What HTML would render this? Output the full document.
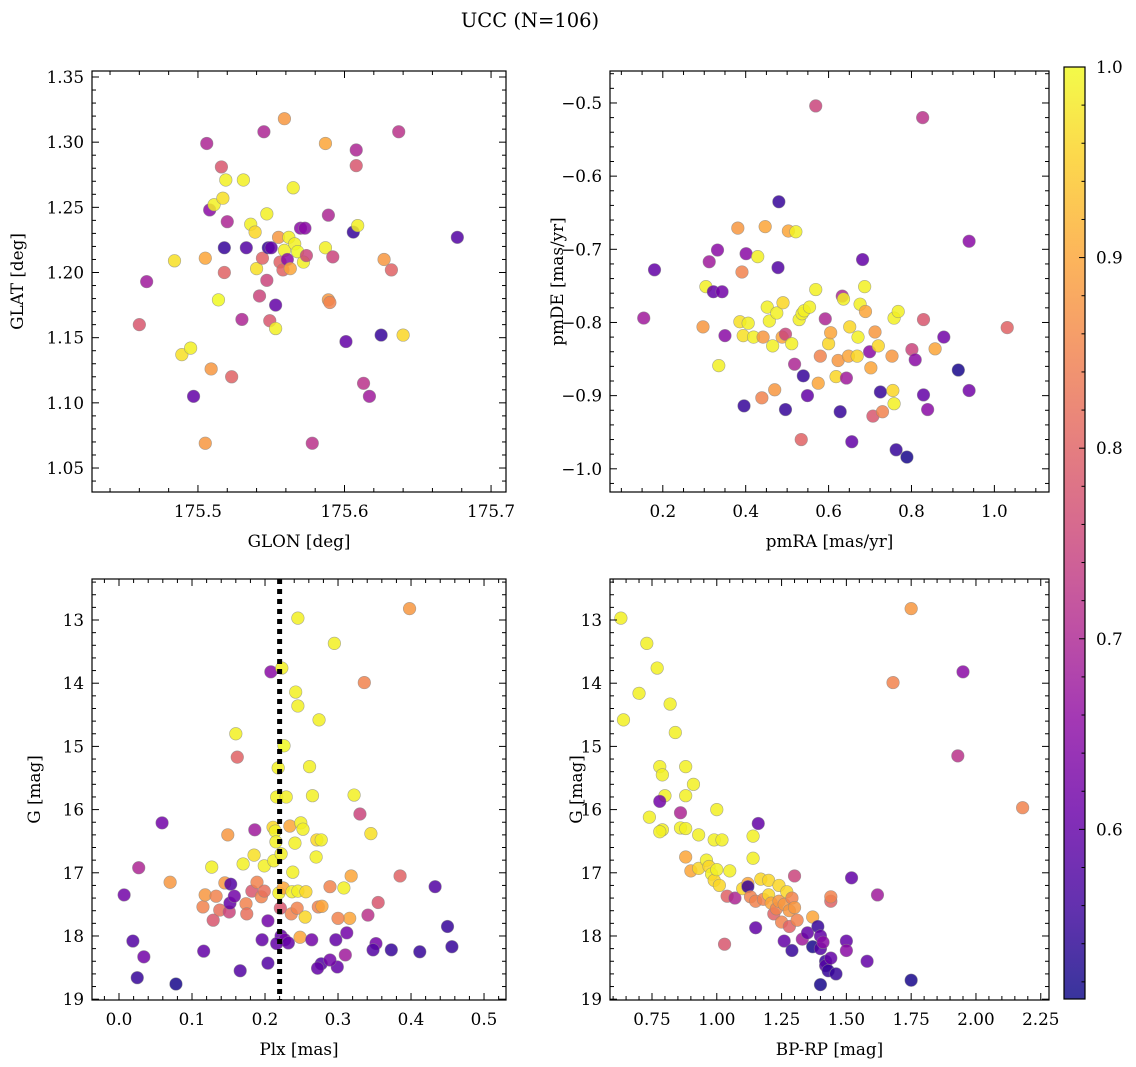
<!DOCTYPE html>
<html><head><meta charset="utf-8">
<style>
html,body{margin:0;padding:0;background:#fff;}
svg{display:block;font-family:"DejaVu Serif","Liberation Serif",serif;}
</style></head>
<body>
<svg id="fig" width="1136" height="1067" viewBox="0 0 1136 1067" xmlns="http://www.w3.org/2000/svg">
<rect width="1136" height="1067" fill="#fff"/>
<text x="530" y="27" font-size="19.5" text-anchor="middle">UCC (N=106)</text>
</svg>
<script>
// ---- data ----
const glon = [175.460,175.465,175.484,175.489,175.495,175.497,175.505,175.506,175.505,175.508,175.509,175.511,175.514,175.516,175.517,175.518,175.518,175.519,175.520,175.523,175.530,175.531,175.533,175.536,175.539,175.540,175.542,175.544,175.545,175.547,175.547,175.548,175.549,175.550,175.553,175.553,175.555,175.556,175.558,175.559,175.559,175.561,175.562,175.563,175.565,175.566,175.568,175.570,175.572,175.573,175.574,175.578,175.587,175.587,175.589,175.589,175.590,175.592,175.601,175.606,175.608,175.608,175.609,175.613,175.617,175.625,175.627,175.632,175.637,175.640,175.677];
const glat = [1.160,1.193,1.209,1.137,1.142,1.105,1.069,1.299,1.211,1.248,1.126,1.252,1.179,1.281,1.257,1.200,1.219,1.271,1.239,1.120,1.164,1.271,1.219,1.237,1.231,1.203,1.182,1.211,1.308,1.245,1.194,1.219,1.163,1.219,1.157,1.175,1.227,1.208,1.202,1.318,1.217,1.210,1.227,1.203,1.265,1.222,1.216,1.234,1.208,1.234,1.213,1.069,1.299,1.219,1.179,1.244,1.177,1.212,1.147,1.231,1.294,1.282,1.236,1.115,1.105,1.152,1.210,1.202,1.308,1.152,1.227];
const probA = [0.78,0.68,0.97,0.97,0.99,0.6,0.88,0.7,0.9,0.65,0.88,0.99,1.0,0.78,0.97,0.8,0.55,0.99,0.7,0.8,0.7,0.99,0.58,0.99,0.96,0.97,0.75,0.8,0.7,0.99,0.75,0.55,0.78,0.6,0.99,0.6,0.88,0.8,0.8,0.88,0.99,0.65,0.99,0.9,0.99,0.99,1.0,0.65,0.99,0.65,0.75,0.72,0.9,0.99,0.88,0.7,0.85,0.75,0.6,0.55,0.7,0.78,0.99,0.72,0.68,0.55,0.88,0.8,0.72,0.96,0.58];

const pmra = [0.154,0.180,0.297,0.304,0.312,0.322,0.332,0.335,0.343,0.350,0.381,0.386,0.391,0.394,0.396,0.401,0.406,0.419,0.429,0.439,0.442,0.447,0.452,0.457,0.465,0.470,0.475,0.478,0.480,0.488,0.490,0.496,0.496,0.503,0.511,0.518,0.521,0.529,0.534,0.536,0.539,0.541,0.549,0.554,0.569,0.575,0.580,0.592,0.600,0.605,0.618,0.623,0.628,0.633,0.636,0.643,0.648,0.651,0.656,0.669,0.671,0.676,0.682,0.687,0.689,0.699,0.702,0.707,0.712,0.720,0.725,0.730,0.753,0.755,0.758,0.758,0.763,0.768,0.789,0.801,0.809,0.829,0.829,0.839,0.857,0.878,0.913,0.939,0.939,1.031,0.569,0.827];
const pmde = [-0.794,-0.728,-0.806,-0.751,-0.717,-0.758,-0.701,-0.859,-0.758,-0.818,-0.671,-0.799,-0.731,-0.818,-0.914,-0.706,-0.801,-0.820,-0.710,-0.903,-0.820,-0.669,-0.779,-0.798,-0.832,-0.892,-0.787,-0.725,-0.635,-0.820,-0.773,-0.919,-0.816,-0.675,-0.829,-0.857,-0.676,-0.796,-0.960,-0.788,-0.873,-0.784,-0.900,-0.779,-0.755,-0.883,-0.846,-0.795,-0.829,-0.814,-0.874,-0.852,-0.922,-0.764,-0.768,-0.876,-0.846,-0.806,-0.963,-0.846,-0.820,-0.775,-0.714,-0.751,-0.785,-0.840,-0.862,-0.928,-0.813,-0.832,-0.895,-0.922,-0.846,-0.893,-0.794,-0.911,-0.974,-0.785,-0.984,-0.837,-0.851,-0.796,-0.899,-0.919,-0.836,-0.820,-0.865,-0.893,-0.689,-0.807,-0.504,-0.520];
const probB = [0.68,0.6,0.88,0.99,0.68,0.6,0.65,0.99,0.62,0.65,0.88,0.97,0.85,0.97,0.55,0.65,0.99,0.99,0.99,0.85,0.88,0.9,0.99,0.99,0.99,0.88,0.99,0.58,0.55,0.9,0.96,0.55,0.75,0.9,0.99,0.7,0.99,0.99,0.8,0.99,0.55,0.99,0.6,0.99,0.99,0.9,0.85,0.7,0.96,0.9,0.96,0.88,0.55,0.7,0.99,0.68,0.9,0.96,0.6,0.96,0.99,0.99,0.6,0.99,0.9,0.65,0.9,0.78,0.88,0.96,0.55,0.85,0.88,0.96,0.99,0.99,0.55,0.99,0.52,0.75,0.65,0.78,0.6,0.65,0.9,0.62,0.52,0.62,0.65,0.8,0.75,0.72];

const plx = [0.007,0.019,0.025,0.027,0.034,0.059,0.078,0.070,0.115,0.116,0.118,0.127,0.129,0.133,0.138,0.145,0.149,0.151,0.152,0.153,0.158,0.160,0.162,0.166,0.170,0.174,0.175,0.182,0.185,0.186,0.189,0.195,0.196,0.199,0.199,0.204,0.204,0.208,0.211,0.212,0.214,0.215,0.216,0.218,0.219,0.221,0.222,0.222,0.223,0.225,0.226,0.227,0.229,0.232,0.234,0.236,0.237,0.238,0.241,0.242,0.244,0.245,0.245,0.248,0.249,0.252,0.255,0.256,0.245,0.264,0.270,0.271,0.273,0.274,0.261,0.265,0.277,0.277,0.278,0.289,0.299,0.322,0.308,0.310,0.312,0.316,0.318,0.330,0.345,0.341,0.295,0.336,0.398,0.352,0.355,0.385,0.373,0.348,0.412,0.433,0.450,0.456,0.272,0.289,0.300,0.297,0.216];
const gmagC = [17.35,18.08,18.66,16.92,18.33,16.21,18.76,17.15,17.54,18.24,17.35,16.91,17.75,17.37,17.59,17.16,16.40,17.62,17.48,17.18,17.37,14.80,15.17,18.55,16.86,17.49,17.65,17.29,16.72,16.32,17.15,17.38,18.06,16.89,17.29,17.76,18.43,13.82,16.28,16.81,16.34,16.51,15.80,15.34,17.32,17.56,16.70,18.00,13.76,17.24,14.99,18.06,15.80,18.11,16.26,17.65,17.30,16.99,16.53,14.14,17.56,17.29,14.36,18.02,16.21,16.31,17.70,17.30,12.97,18.06,16.75,16.48,17.54,14.58,15.32,15.78,16.48,18.44,17.53,17.22,18.49,15.77,17.24,18.30,17.95,17.72,17.05,16.07,16.38,17.67,13.37,13.99,12.82,18.12,17.47,17.05,18.22,18.22,18.25,17.22,17.85,18.17,18.51,18.38,17.72,18.06,18.12];
const probC = [0.62,0.58,0.55,0.7,0.62,0.62,0.52,0.88,0.85,0.6,0.88,0.99,0.78,0.85,0.82,0.88,0.88,0.75,0.6,0.58,0.62,0.99,0.8,0.58,0.99,0.85,0.82,0.78,0.97,0.68,0.85,0.85,0.6,0.99,0.82,0.62,0.58,0.65,0.96,0.99,0.99,0.99,0.99,0.99,0.99,0.78,0.99,0.6,0.99,0.9,1.0,0.62,0.99,0.6,0.9,0.85,0.99,0.99,0.99,0.99,0.85,0.99,0.99,0.9,0.99,0.99,0.96,0.96,0.99,0.62,0.99,0.96,0.85,0.99,0.99,0.99,0.99,0.58,0.9,0.85,0.6,0.99,0.99,0.68,0.62,0.9,0.9,0.75,0.97,0.72,0.99,0.85,0.88,0.62,0.78,0.8,0.55,0.58,0.55,0.58,0.55,0.55,0.6,0.62,0.85,0.6,0.6];

const bprp = [0.63,0.64,0.70,0.73,0.77,0.74,0.78,0.79,0.80,0.78,0.79,0.78,0.82,0.84,0.86,0.86,0.88,0.88,0.88,0.88,0.90,0.91,0.93,0.93,0.96,0.97,0.98,0.99,0.99,1.00,1.00,1.01,1.02,1.03,1.04,1.05,1.07,1.10,1.12,1.12,1.13,1.14,1.14,1.15,1.15,1.16,1.17,1.18,1.20,1.20,1.21,1.22,1.23,1.24,1.24,1.25,1.26,1.27,1.28,1.28,1.29,1.30,1.30,1.31,1.26,1.29,1.33,1.35,1.37,1.37,1.39,1.40,1.40,1.41,1.42,1.42,1.43,1.44,1.44,1.44,1.46,1.40,1.50,1.50,1.52,1.58,1.62,1.68,1.75,1.75,1.93,1.95,2.18];
const gmagD = [12.97,14.58,14.16,13.37,13.76,16.12,15.32,15.45,15.78,15.87,16.32,16.35,14.33,14.78,16.29,16.05,15.32,15.78,16.30,16.75,16.97,15.60,16.40,16.93,16.80,16.90,17.02,16.48,17.12,16.00,16.95,17.20,16.48,18.13,17.37,16.97,17.40,17.25,17.17,17.22,17.38,16.42,16.77,17.45,17.87,16.22,17.10,17.42,17.35,17.12,17.48,17.65,17.57,17.45,17.20,17.78,17.50,17.30,17.60,17.85,17.40,17.55,17.05,17.75,18.08,18.23,18.05,17.95,17.70,18.17,17.85,18.00,18.20,18.10,18.40,18.47,18.55,18.35,17.45,17.38,18.60,18.77,18.08,18.23,17.08,18.40,17.35,13.99,12.82,18.70,15.15,13.82,15.97];
const probD = [0.99,0.99,0.99,0.99,0.99,0.99,0.99,0.99,0.99,0.62,0.99,0.99,0.99,0.99,0.99,0.7,0.99,0.99,0.99,0.9,0.9,0.99,0.99,0.96,0.99,0.96,0.99,0.99,0.96,0.99,0.99,0.96,0.99,0.78,0.8,0.99,0.7,0.96,0.9,0.55,0.85,0.99,0.99,0.85,0.6,0.6,0.96,0.85,0.96,0.96,0.9,0.8,0.85,0.88,0.96,0.85,0.88,0.96,0.88,0.8,0.85,0.88,0.75,0.85,0.6,0.55,0.68,0.6,0.9,0.52,0.55,0.6,0.58,0.65,0.55,0.58,0.55,0.6,0.8,0.85,0.55,0.52,0.6,0.65,0.6,0.6,0.68,0.85,0.88,0.52,0.72,0.65,0.85];

const plxLine = 0.22;
const cbTicks = [0.6,0.7,0.8,0.9,1.0];
const vmin = 0.511, vmax = 1.0;

// ---- rendering ----
const NS = "http://www.w3.org/2000/svg";
const svg = document.getElementById('fig');
const FS = 16.8;
const plasma = [[13,8,135],[65,4,157],[106,0,168],[143,13,164],[177,42,144],[204,71,120],[225,100,98],[242,132,75],[252,166,54],[252,206,37],[240,249,33]];
function cmap(v){
  let t = Math.max(0, Math.min(1, (v - vmin) / (vmax - vmin))) * 10;
  let i = Math.min(9, Math.floor(t)), f = t - i;
  const a = plasma[i], b = plasma[i+1];
  return 'rgb(' + [0,1,2].map(k => Math.round(a[k] + (b[k]-a[k]) * f)).join(',') + ')';
}
function el(tag, attrs, parent){
  const e = document.createElementNS(NS, tag);
  for (const k in attrs) e.setAttribute(k, attrs[k]);
  (parent || svg).appendChild(e);
  return e;
}
function fmt(v, d){ let s = v.toFixed(d); if (s.startsWith('-')) s = '\u2212' + s.slice(1); return s; }

function panel(p){
  const g = el('g', {});
  
  
  const sx = v => p.x0 + (v - p.xmin) / (p.xmax - p.xmin) * (p.x1 - p.x0);
  const sy = p.invert
    ? v => p.y0 + (v - p.ymin) / (p.ymax - p.ymin) * (p.y1 - p.y0)
    : v => p.y1 - (v - p.ymin) / (p.ymax - p.ymin) * (p.y1 - p.y0);
  const pts = el('g', {}, g);
  
  
  for (let i = 0; i < p.xs.length; i++){
    const c = el('circle', {cx: sx(p.xs[i]), cy: sy(p.ys[i]), r: 6.3, fill: cmap(p.cs[i]), 'fill-opacity': 0.85, stroke: '#888', 'stroke-width': 0.6, 'stroke-opacity': 0.7}, pts);
    
    
  }
  if (p.extra) p.extra(g, sx, sy);
  el('rect', {x: p.x0, y: p.y0, width: p.x1 - p.x0, height: p.y1 - p.y0, fill: 'none', stroke: '#000', 'stroke-width': 1.2}, g);
  const eps = 1e-9;
  for (let v = Math.ceil(p.xmin / p.xminor - eps) * p.xminor; v <= p.xmax + eps; v += p.xminor){
    const X = sx(v);
    const isMaj = Math.abs(v / p.xmajor - Math.round(v / p.xmajor)) < 1e-6;
    const L = isMaj ? 7 : 4;
    el('line', {x1: X, x2: X, y1: p.y1, y2: p.y1 - L, stroke: '#000', 'stroke-width': 1}, g);
    el('line', {x1: X, x2: X, y1: p.y0, y2: p.y0 + L, stroke: '#000', 'stroke-width': 1}, g);
    if (isMaj){
      const t = el('text', {x: X, y: p.y1 + 25, 'font-size': FS, 'text-anchor': 'middle'}, g);
      t.textContent = fmt(Math.round(v / p.xmajor) * p.xmajor, p.xdec);
      
      
    }
  }
  for (let v = Math.ceil(p.ymin / p.yminor - eps) * p.yminor; v <= p.ymax + eps; v += p.yminor){
    const Y = sy(v);
    const isMaj = Math.abs(v / p.ymajor - Math.round(v / p.ymajor)) < 1e-6;
    const L = isMaj ? 7 : 4;
    el('line', {x1: p.x0, x2: p.x0 + L, y1: Y, y2: Y, stroke: '#000', 'stroke-width': 1}, g);
    el('line', {x1: p.x1, x2: p.x1 - L, y1: Y, y2: Y, stroke: '#000', 'stroke-width': 1}, g);
    if (isMaj){
      const t = el('text', {x: p.x0 - 8, y: Y + 6, 'font-size': FS, 'text-anchor': 'end'}, g);
      t.textContent = fmt(Math.round(v / p.ymajor) * p.ymajor, p.ydec);
      
      
    }
  }
  const xl = el('text', {x: (p.x0 + p.x1) / 2, y: p.y1 + 55, 'font-size': FS, 'text-anchor': 'middle'}, g);
  xl.textContent = p.xlabel;
  
  
  const yc = (p.y0 + p.y1) / 2;
  const yl = el('text', {x: p.ylx, y: yc, 'font-size': FS, 'text-anchor': 'middle', transform: 'rotate(-90 ' + p.ylx + ' ' + yc + ')'}, g);
  yl.textContent = p.ylabel;
  
  
}

panel({name: 'glon-glat-panel', x0: 92, x1: 506, y0: 71, y1: 492, xmin: 175.4277, xmax: 175.7102, ymin: 1.0316, ymax: 1.3546,
  xmajor: 0.1, xminor: 0.02, ymajor: 0.05, yminor: 0.01, xdec: 1, ydec: 2, xs: glon, ys: glat, cs: probA,
  xlabel: 'GLON [deg]', ylabel: 'GLAT [deg]', ylx: 23});
panel({name: 'pm-panel', x0: 610, x1: 1049, y0: 71, y1: 492, xmin: 0.0726, xmax: 1.1318, ymin: -1.0317, ymax: -0.4563,
  xmajor: 0.2, xminor: 0.05, ymajor: 0.1, yminor: 0.02, xdec: 1, ydec: 1, xs: pmra, ys: pmde, cs: probB,
  xlabel: 'pmRA [mas/yr]', ylabel: 'pmDE [mas/yr]', ylx: 563});
panel({name: 'plx-g-panel', x0: 92, x1: 506, y0: 579, y1: 1000, xmin: -0.037, xmax: 0.5301, ymin: 12.351, ymax: 19.013, invert: true,
  xmajor: 0.1, xminor: 0.02, ymajor: 1, yminor: 0.2, xdec: 1, ydec: 0, xs: plx, ys: gmagC, cs: probC,
  xlabel: 'Plx [mas]', ylabel: 'G [mag]', ylx: 40,
  extra: (g, sx, sy) => {
    const l = el('line', {x1: sx(plxLine), x2: sx(plxLine), y1: 579, y2: 1000, stroke: '#000', 'stroke-width': 5, 'stroke-dasharray': '5 5'}, g);
    
    
  }});
panel({name: 'cmd-panel', x0: 610, x1: 1049, y0: 579, y1: 1000, xmin: 0.588, xmax: 2.2818, ymin: 12.351, ymax: 19.013, invert: true,
  xmajor: 0.25, xminor: 0.05, ymajor: 1, yminor: 0.2, xdec: 2, ydec: 0, xs: bprp, ys: gmagD, cs: probD,
  xlabel: 'BP-RP [mag]', ylabel: 'G [mag]', ylx: 582});

(function(){
  const cb = el('g', {});
  
  
  const defs = el('defs', {}, cb);
  const lg = el('linearGradient', {id: 'cbg', x1: 0, y1: 1, x2: 0, y2: 0}, defs);
  for (let i = 0; i <= 20; i++){
    const v = vmin + (vmax - vmin) * i / 20;
    el('stop', {offset: (i / 20), 'stop-color': cmap(v)}, lg);
  }
  const x0 = 1064, x1 = 1085, y0 = 67, y1 = 999;
  el('rect', {x: x0, y: y0, width: x1 - x0, height: y1 - y0, fill: 'url(#cbg)', 'fill-opacity': 0.82}, cb);
  el('rect', {x: x0, y: y0, width: x1 - x0, height: y1 - y0, fill: 'none', stroke: '#000', 'stroke-width': 1.2}, cb);
  const sy = v => y1 - (v - vmin) / (vmax - vmin) * (y1 - y0);
  for (let k = 52; k <= 100; k += 2){
    const v = k / 100;
    const isMaj = k % 10 === 0;
    el('line', {x1: x1, x2: x1 - (isMaj ? 6 : 3.5), y1: sy(v), y2: sy(v), stroke: '#000', 'stroke-width': 1}, cb);
  }
  cbTicks.forEach(v => {
    const t = el('text', {x: x1 + 11, y: sy(v) + 6, 'font-size': FS}, cb);
    t.textContent = v.toFixed(1);
    
    
  });
})();
</script>
</body></html>
